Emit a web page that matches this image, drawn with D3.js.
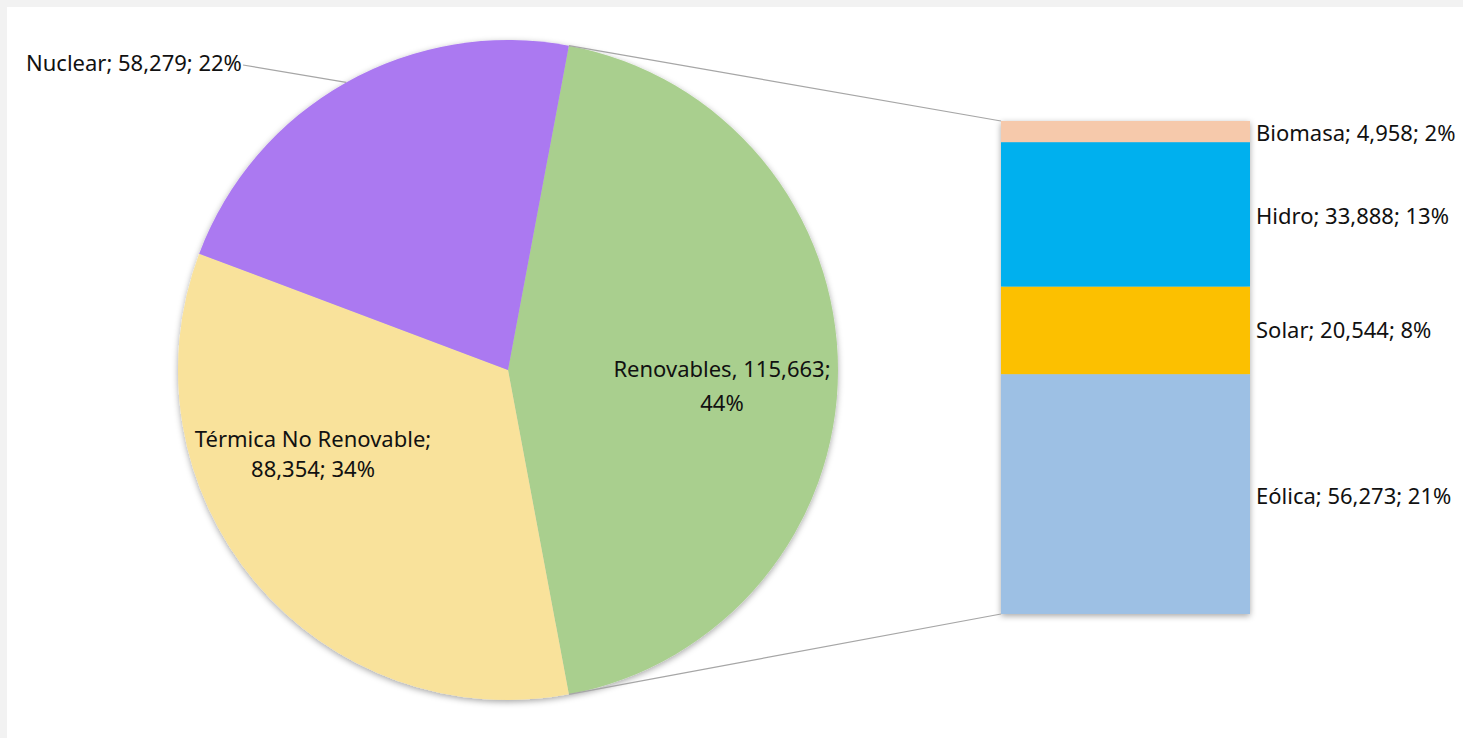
<!DOCTYPE html>
<html>
<head>
<meta charset="utf-8">
<script src="https://cdn.jsdelivr.net/npm/d3@7"></script>
<style>
  html, body { margin: 0; padding: 0; background: #f2f2f2; }
  #chart { position: absolute; left: 7px; top: 7px; }
  text { font-family: "Noto Sans", "Open Sans", sans-serif; fill: #111; }
</style>
</head>
<body>
<div id="chart"></div>
<script>
// pie slices (Renovables is split into the bar on the right)
var pieNames = ['Renovables', 'Térmica No Renovable', 'Nuclear'];
var pieValues = [115663, 88354, 58279];
var pieColors = ['#a9cf8e', '#f9e29b', '#ab79f1'];

// breakdown of Renovables, bottom to top
var barNames = ['Eólica', 'Solar', 'Hidro', 'Biomasa'];
var barValues = [56273, 20544, 33888, 4958];
var barColors = ['#9dc0e4', '#fcc000', '#00b0ee', '#f6c9ab'];

var W = 1456, H = 731;
var cx = 501, cy = 363, r = 330;          // pie geometry, in svg coords
var barX = 994, barW = 249, barTop = 114, barBottom = 607;

var total = d3.sum(pieValues);
var fmt = d3.format(',');
var pct = function(v) { return Math.round(v / total * 100) + '%'; };

var svg = d3.select('#chart').append('svg')
    .attr('width', W).attr('height', H)
    .style('background', '#fff');

// soft shadow like the office chart
var f = svg.append('defs').append('filter').attr('id', 'shadow')
    .attr('x', '-10%').attr('y', '-10%').attr('width', '120%').attr('height', '120%');
f.append('feDropShadow').attr('dx', 0).attr('dy', 2).attr('stdDeviation', 3)
    .attr('flood-color', '#000').attr('flood-opacity', 0.35);

// rotate so the split slice is centred on the right side
var renovAngle = pieValues[0] / total * 2 * Math.PI;
var start = Math.PI / 2 - renovAngle / 2;
var pie = d3.pie().sort(null).startAngle(start).endAngle(start + 2 * Math.PI);
var arcs = pie(pieValues);
var arc = d3.arc().innerRadius(0).outerRadius(r);

var gPie = svg.append('g').attr('transform', 'translate(' + cx + ',' + cy + ')');
gPie.append('g').attr('filter', 'url(#shadow)')
    .selectAll('path').data(arcs).enter().append('path')
    .attr('d', arc)
    .attr('fill', function(d, i) { return pieColors[i]; });

// bar of the split slice
var y = d3.scaleLinear().domain([0, d3.sum(barValues)]).range([barBottom, barTop]);
var stacked = [];
var acc = 0;
barValues.forEach(function(v, i) {
    stacked.push({ name: barNames[i], value: v, y0: acc, y1: acc + v, color: barColors[i] });
    acc += v;
});

svg.append('g').attr('filter', 'url(#shadow)')
    .selectAll('rect').data(stacked).enter().append('rect')
    .attr('x', barX).attr('width', barW)
    .attr('y', function(d) { return y(d.y1); })
    .attr('height', function(d) { return y(d.y0) - y(d.y1); })
    .attr('fill', function(d) { return d.color; });

// connector lines from the split slice edges to the bar corners
var pt = function(a) { return [cx + r * Math.sin(a), cy - r * Math.cos(a)]; };
var p0 = pt(arcs[0].startAngle), p1 = pt(arcs[0].endAngle);
svg.append('g').attr('stroke', '#a6a6a6').attr('stroke-width', 1.2)
    .selectAll('line').data([[p0, [barX, y(d3.sum(barValues))]], [p1, [barX, y(0)]]])
    .enter().append('line')
    .attr('x1', function(d) { return d[0][0]; }).attr('y1', function(d) { return d[0][1]; })
    .attr('x2', function(d) { return d[1][0]; }).attr('y2', function(d) { return d[1][1]; });

var fs = 22;

// bar labels
svg.append('g').selectAll('text').data(stacked).enter().append('text')
    .attr('x', barX + barW + 6)
    .attr('y', function(d, i) { return [489, 323, 209, 126][i]; })
    .attr('dy', '0.35em')
    .style('font-size', fs + 'px')
    .text(function(d) { return d.name + '; ' + fmt(d.value) + '; ' + pct(d.value); });

// pie labels
var renov = svg.append('text').attr('text-anchor', 'middle').style('font-size', fs + 'px');
renov.append('tspan').attr('x', 715).attr('y', 370).text(pieNames[0] + ', ' + fmt(pieValues[0]) + ';');
renov.append('tspan').attr('x', 715).attr('y', 404).text(pct(pieValues[0]));

var term = svg.append('text').attr('text-anchor', 'middle').style('font-size', fs + 'px');
term.append('tspan').attr('x', 306).attr('y', 440).text(pieNames[1] + ';');
term.append('tspan').attr('x', 306).attr('y', 470).text(fmt(pieValues[1]) + '; ' + pct(pieValues[1]));

svg.append('text').attr('x', 19).attr('y', 64)
    .style('font-size', fs + 'px')
    .text(pieNames[2] + '; ' + fmt(pieValues[2]) + '; ' + pct(pieValues[2]));

// leader line for the nuclear label
var nucMid = (arcs[2].startAngle + arcs[2].endAngle) / 2;
svg.append('polyline')
    .attr('points', [[236, 58], pt(nucMid)].map(function(p) { return p.join(','); }).join(' '))
    .attr('fill', 'none').attr('stroke', '#a6a6a6').attr('stroke-width', 1.2);
</script>
</body>
</html>
